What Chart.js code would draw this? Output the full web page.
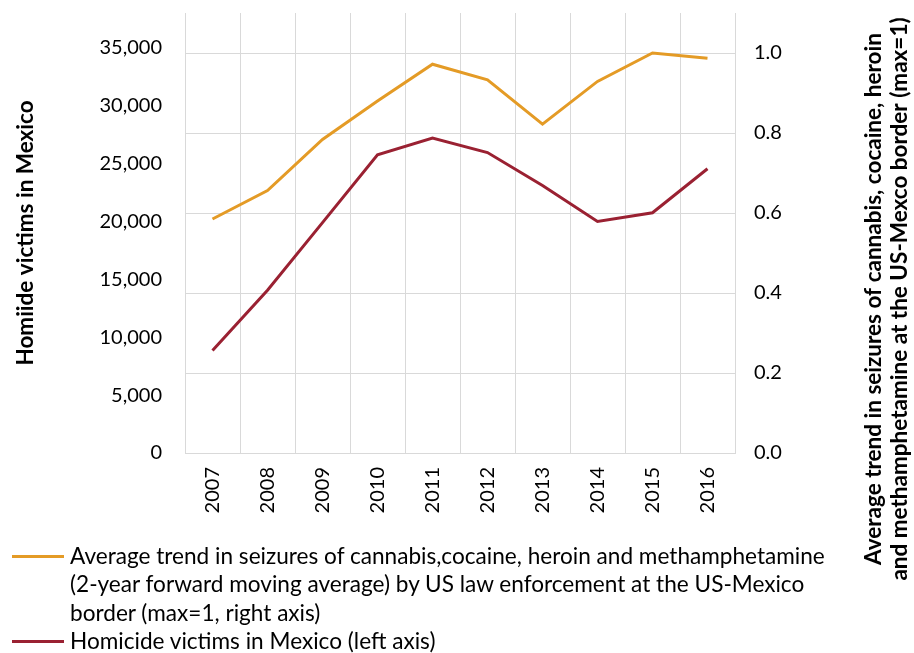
<!DOCTYPE html>
<html>
<head>
<meta charset="utf-8">
<script src="https://cdn.jsdelivr.net/npm/chart.js@4"></script>
<style>
  html, body { margin: 0; padding: 0; background: #fff; }
  #wrap { position: relative; width: 914px; height: 653px; font-family: Lato, sans-serif; }
  #chart { position: absolute; left: 0; top: 0; }
  .leg { position: absolute; left: 12px; width: 52px; height: 3px; }
  .legtext { position: absolute; left: 70px; font-size: 22.6px; line-height: 28.3px; color: #000; white-space: nowrap; }
</style>
</head>
<body>
<div id="wrap">
  <canvas id="chart" width="914" height="653"></canvas>
  <div class="leg" style="top:555px; background:#E49B26;"></div>
  <div class="legtext" style="top:542px;">Average trend in seizures of cannabis,cocaine, heroin and methamphetamine<br>(2-year forward moving average) by US law enforcement at the US-Mexico<br>border (max=1, right axis)</div>
  <div class="leg" style="top:640px; background:#9A2132;"></div>
  <div class="legtext" style="top:627px;">Homicide victims in Mexico (left axis)</div>
</div>
<script>
// data
const years = ['2007', '2008', '2009', '2010', '2011', '2012', '2013', '2014', '2015', '2016'];
const homicides = [8850, 14050, 19900, 25750, 27200, 25950, 23100, 20000, 20750, 24550];
const seizures = [0.585, 0.656, 0.784, 0.88, 0.972, 0.933, 0.822, 0.929, 1.0, 0.987];
const leftTicks = [0, 5000, 10000, 15000, 20000, 25000, 30000, 35000];
const rightTicks = [0, 0.2, 0.4, 0.6, 0.8, 1.0];

const orange = '#E49B26';
const red = '#9A2132';
const gridColor = '#D9D9D9';
const tickFont = { family: 'Lato', size: 20 };

// axis titles drawn by hand (right one reads bottom to top)
const axisTitles = {
  id: 'axisTitles',
  afterDraw(chart) {
    const ctx = chart.ctx;
    ctx.save();
    ctx.fillStyle = '#000';
    ctx.font = 'bold 22.5px Lato';
    ctx.textAlign = 'center';
    ctx.textBaseline = 'middle';
    const put = (text, x, y) => {
      ctx.save();
      ctx.translate(x, y);
      ctx.rotate(-Math.PI / 2);
      ctx.fillText(text, 0, 0);
      ctx.restore();
    };
    put('Homiide victims in Mexico', 26, 233);
    put('Average trend in seizures of cannabis, cocaine, heroin', 874, 299);
    put('and methamphetamine at the US-Mexco border (max=1)', 900, 299);
    ctx.restore();
  }
};

const ctx = document.getElementById('chart').getContext('2d');
const chart = new Chart(ctx, {
  type: 'line',
  data: {
    labels: years,
    datasets: [
      {
        label: 'Seizures trend',
        data: seizures,
        yAxisID: 'y1',
        borderColor: orange,
        backgroundColor: orange,
        borderWidth: 3,
        pointRadius: 0,
        tension: 0
      },
      {
        label: 'Homicide victims',
        data: homicides,
        yAxisID: 'y',
        borderColor: red,
        backgroundColor: red,
        borderWidth: 3,
        pointRadius: 0,
        tension: 0
      }
    ]
  },
  options: {
    responsive: false,
    animation: false,
    layout: { padding: { top: 13, bottom: 130, left: 0, right: 0 } },
    plugins: {
      legend: { display: false },
      tooltip: { enabled: false }
    },
    scales: {
      x: {
        offset: true,
        grid: { color: gridColor, offset: true, drawTicks: false },
        border: { color: gridColor },
        ticks: { font: tickFont, color: '#000', minRotation: 90, maxRotation: 90, padding: 14 },
        afterFit(scale) {
          scale.height = 70;
          scale.paddingLeft = 0;
          scale.paddingRight = 0;
        }
      },
      y: {
        position: 'left',
        min: 0,
        max: 38000,
        grid: { display: false, drawTicks: false },
        border: { color: gridColor },
        ticks: {
          font: tickFont,
          color: '#000',
          padding: 23,
          callback: v => v.toLocaleString('en-US')
        },
        afterBuildTicks(scale) { scale.ticks = leftTicks.map(v => ({ value: v })); },
        afterFit(scale) {
          scale.width = 185;
          scale.paddingTop = 0;
          scale.paddingBottom = 0;
        }
      },
      y1: {
        position: 'right',
        min: 0,
        max: 1.1,
        grid: { color: gridColor, drawTicks: false },
        border: { color: gridColor },
        ticks: {
          font: tickFont,
          color: '#000',
          padding: 19,
          callback: v => v.toFixed(1)
        },
        afterBuildTicks(scale) { scale.ticks = rightTicks.map(v => ({ value: v })); },
        afterFit(scale) {
          scale.width = 179;
          scale.paddingTop = 0;
          scale.paddingBottom = 0;
        }
      }
    }
  },
  plugins: [axisTitles]
});
</script>
</body>
</html>
